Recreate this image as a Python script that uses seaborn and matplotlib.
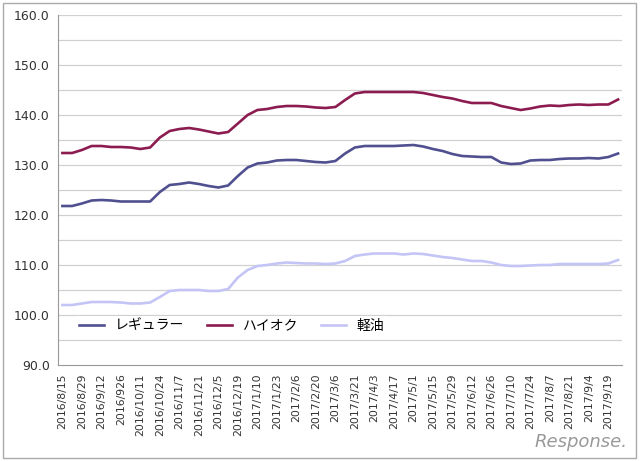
import numpy as np
import pandas as pd
import seaborn as sns
import matplotlib.pyplot as plt
from matplotlib.patches import Rectangle

plt.rcParams["font.family"] = ["DejaVu Sans", "Noto Sans CJK JP"]

tick_labels = ["2016/8/15", "2016/8/29", "2016/9/12", "2016/926", "2016/10/11", "2016/10/24",
               "2016/11/7", "2016/11/21", "2016/12/5", "2016/12/19", "2017/1/10", "2017/1/23",
               "2017/2/6", "2017/2/20", "2017/3/6", "2017/3/21", "2017/4/3", "2017/4/17",
               "2017/5/1", "2017/5/15", "2017/5/29", "2017/6/12", "2017/6/26", "2017/7/10",
               "2017/7/24", "2017/8/7", "2017/8/21", "2017/9/4", "2017/9/19"]

regular = [121.8, 121.8, 122.3, 122.9, 123.0, 122.9, 122.7, 122.7, 122.7, 122.7,
           124.6, 126.0, 126.2, 126.5, 126.2, 125.8, 125.5, 125.9, 127.8, 129.5,
           130.3, 130.5, 130.9, 131.0, 131.0, 130.8, 130.6, 130.5, 130.8, 132.3,
           133.5, 133.8, 133.8, 133.8, 133.8, 133.9, 134.0, 133.7, 133.2, 132.8,
           132.2, 131.8, 131.7, 131.6, 131.6, 130.5, 130.2, 130.3, 130.9, 131.0,
           131.0, 131.2, 131.3, 131.3, 131.4, 131.3, 131.6, 132.3]
highoctane = [132.4, 132.4, 133.0, 133.8, 133.8, 133.6, 133.6, 133.5, 133.2, 133.5,
              135.5, 136.8, 137.2, 137.4, 137.1, 136.7, 136.3, 136.6, 138.3, 140.0,
              141.0, 141.2, 141.6, 141.8, 141.8, 141.7, 141.5, 141.4, 141.6, 143.0,
              144.3, 144.6, 144.6, 144.6, 144.6, 144.6, 144.6, 144.4, 144.0, 143.6,
              143.3, 142.8, 142.4, 142.4, 142.4, 141.8, 141.4, 141.0, 141.3, 141.7,
              141.9, 141.8, 142.0, 142.1, 142.0, 142.1, 142.1, 143.1]
diesel = [102.0, 102.0, 102.3, 102.6, 102.6, 102.6, 102.5, 102.3, 102.3, 102.5,
          103.6, 104.8, 105.0, 105.0, 105.0, 104.8, 104.8, 105.2, 107.5, 109.0,
          109.8, 110.0, 110.3, 110.5, 110.4, 110.3, 110.3, 110.2, 110.3, 110.8,
          111.8, 112.1, 112.3, 112.3, 112.3, 112.1, 112.3, 112.2, 111.9, 111.6,
          111.4, 111.1, 110.8, 110.8, 110.5, 110.0, 109.8, 109.8, 109.9, 110.0,
          110.0, 110.2, 110.2, 110.2, 110.2, 110.2, 110.3, 111.0]

n = len(regular)
df = pd.DataFrame({"week": list(range(n)) * 3,
                   "price": regular + highoctane + diesel,
                   "kind": ["レギュラー"] * n + ["ハイオク"] * n + ["軽油"] * n})

fig = plt.figure(figsize=(6.4, 4.61), dpi=100)
ax = fig.add_axes([58 / 640, 1 - 365 / 461, 564 / 640, 350 / 461])
palette = {"レギュラー": "#505090", "ハイオク": "#8C1C50", "軽油": "#C4C4F6"}
sns.lineplot(data=df, x="week", y="price", hue="kind", palette=palette, linewidth=1.9, ax=ax)

ax.set_ylim(90, 160)
ax.set_xlim(-0.45, n - 0.6)
ax.set_yticks(np.arange(90, 161, 10))
ax.set_yticklabels([f"{v:.1f}" for v in np.arange(90, 161, 10)], fontsize=9, color="#333333")
for y in np.arange(95, 161, 5):
    ax.axhline(y, color="#d0d0d0", linewidth=0.9, zorder=0)
ax.set_xticks(range(0, n - 1, 2))
ax.set_xticklabels(tick_labels, rotation=90, fontsize=7.8, color="#333333")
ax.tick_params(length=0, pad=6)
ax.set_xlabel("")
ax.set_ylabel("")
for s in ["top", "right"]:
    ax.spines[s].set_visible(False)
for s in ["left", "bottom"]:
    ax.spines[s].set_color("#999999")

leg = ax.legend(loc="lower left", bbox_to_anchor=(0.02, 0.065), ncol=3, frameon=True,
                fontsize=10, handlelength=1.8, columnspacing=1.6, borderpad=0.2, fancybox=False)
leg.get_frame().set_facecolor("white")
leg.get_frame().set_edgecolor("none")
leg.get_frame().set_alpha(1)

fig.patches.append(Rectangle((0.004, 0.006), 0.99, 0.988, transform=fig.transFigure,
                             fill=False, edgecolor="#aaaaaa", linewidth=1))
fig.text(0.98, 0.03, "Response.", ha="right", fontsize=13, color="#999999", style="italic")

fig.savefig("out.png", dpi=100)
